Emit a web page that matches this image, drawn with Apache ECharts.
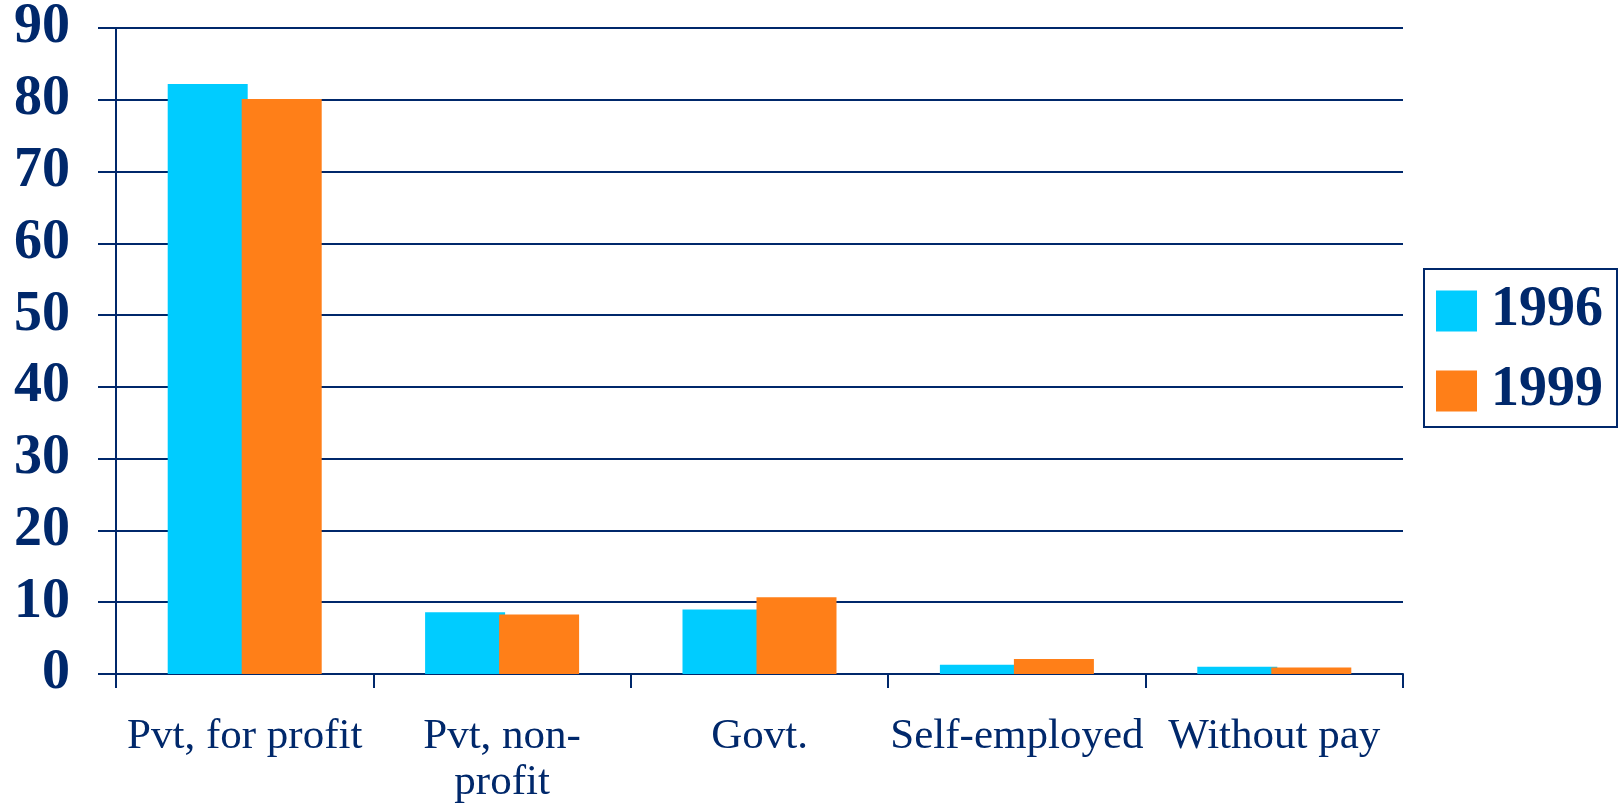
<!DOCTYPE html>
<html>
<head>
<meta charset="utf-8">
<script src="https://cdn.jsdelivr.net/npm/echarts@6/dist/echarts.min.js"></script>
<style>
  html, body { margin: 0; padding: 0; background: #fff; }
  #chart { width: 1623px; height: 812px; }
</style>
</head>
<body>
<div id="chart"></div>
<script>
// sector categories and shares (%)
var categories = ['Pvt, for profit', 'Pvt, non-\nprofit', 'Govt.', 'Self-employed', 'Without pay'];
var values1996 = [82.2, 8.6, 9.0, 1.3, 1.0];
var values1999 = [80.1, 8.3, 10.7, 2.1, 0.9];
var yTicks = { min: 0, max: 90, step: 10 };

var navy = '#00286B';
var font = 'Liberation Serif';

var chart = echarts.init(document.getElementById('chart'));
var option = {
  animation: false,
  backgroundColor: '#fff',
  grid: {
    left: 116,
    right: 220,
    top: 28,
    bottom: 138,
    containLabel: false
  },
  legend: {
    orient: 'vertical',
    left: 1424,
    top: 269,
    padding: [14, 14, 8, 12],
    itemWidth: 41,
    itemHeight: 41,
    itemGap: 24,
    borderColor: navy,
    borderWidth: 2,
    icon: 'rect',
    textStyle: {
      color: navy,
      fontFamily: font,
      fontWeight: 'bold',
      fontSize: 56,
      padding: [0, 0, 0, 9]
    },
    data: ['1996', '1999']
  },
  xAxis: {
    type: 'category',
    data: categories,
    axisLine: { lineStyle: { color: navy, width: 2 } },
    axisTick: { show: true, length: 14, lineStyle: { color: navy, width: 2 } },
    axisLabel: {
      color: navy,
      fontFamily: font,
      fontSize: 43,
      lineHeight: 46,
      margin: 40,
      interval: 0
    }
  },
  yAxis: {
    type: 'value',
    min: yTicks.min,
    max: yTicks.max,
    interval: yTicks.step,
    axisLine: { show: true, lineStyle: { color: navy, width: 2 } },
    axisTick: { show: true, length: 18, lineStyle: { color: navy, width: 2 } },
    splitLine: { show: true, lineStyle: { color: navy, width: 2 } },
    axisLabel: {
      color: navy,
      fontFamily: font,
      fontWeight: 'bold',
      fontSize: 56,
      margin: 46
    }
  },
  series: [
    {
      name: '1996',
      type: 'bar',
      data: values1996,
      barWidth: 80,
      barGap: '-7.5%',
      itemStyle: { color: '#00CCFF' }
    },
    {
      name: '1999',
      type: 'bar',
      data: values1999,
      barWidth: 80,
      itemStyle: { color: '#FF7F18' }
    }
  ]
};
chart.setOption(option);
</script>
</body>
</html>
